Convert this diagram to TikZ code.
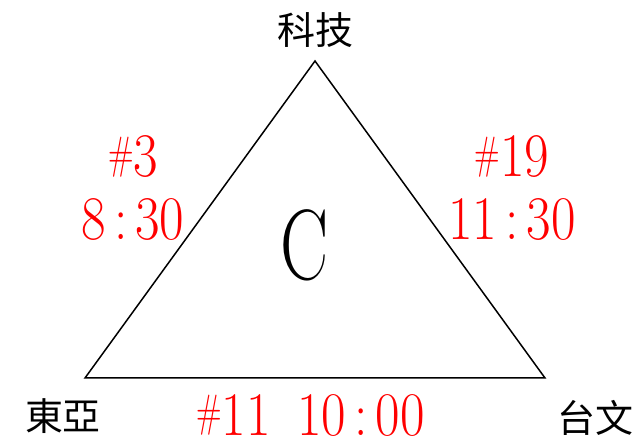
\documentclass[tikz,border=0pt]{standalone}
\usepackage{fontspec}
\newfontfamily\cjk{Noto Sans CJK TC}
% diese et deux-points a chasse fixe
\newcommand{\diese}{\raisebox{0.142em}{\scalebox{0.62}[0.73]{\#}}}
\newcommand{\dpts}{\makebox[0.55em]{:}}
\begin{document}
\begin{tikzpicture}[x=1pt, y=1pt, line width=1.5pt]
		\tikzstyle{lieu} = [font=\cjk\fontsize{38}{40}\selectfont, inner sep=0pt]
		\tikzstyle{horaire} = [text=red, font=\fontsize{62}{63}\selectfont, align=center, inner sep=0pt, xscale=0.86, transform shape]
		\useasboundingbox (0,0) rectangle (641,439);
		\coordinate (haut) at (315,378);
		\coordinate (gauche) at (85,61);
		\coordinate (droite) at (545,61);
		\draw (haut) -- (gauche) -- (droite) -- cycle;
		\node[lieu] (keji) at (315,409) {科技};
		\node[lieu] (dongya) at (63,23) {東亞};
		\node[lieu] (taiwen) at (595,21) {台文};
		\node[font=\fontsize{100}{100}\selectfont, xscale=0.72, transform shape, inner sep=0pt] (centre) at (305,194) {C};
		\node[horaire] (ga) at (133,250.5) {\diese3\\8\dpts30};
		\node[horaire] (dr) at (512,250.5) {\diese19\\11\dpts30};
		\node[horaire, anchor=base] (bas) at (310.5,3.5) {\diese11\hspace{0.5em}10\dpts00};
	\end{tikzpicture}
\end{document}
